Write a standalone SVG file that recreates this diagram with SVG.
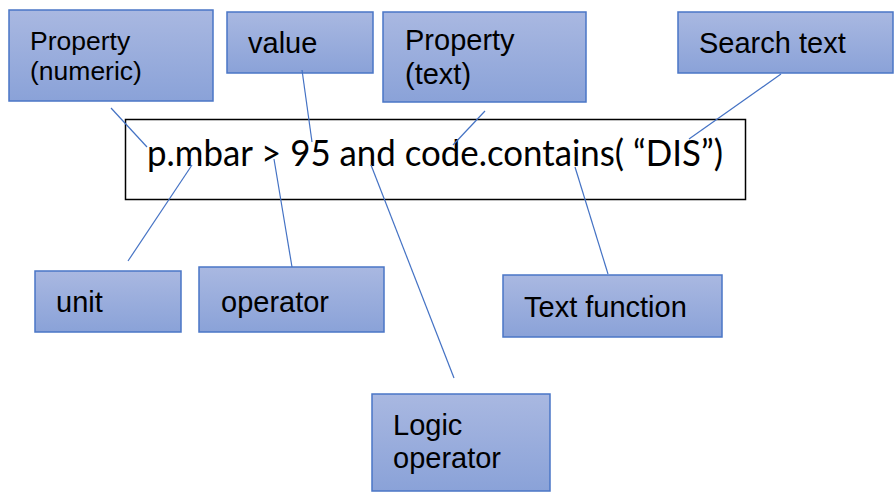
<svg xmlns="http://www.w3.org/2000/svg" width="894" height="493" viewBox="0 0 894 493">
  <style>
    .box { fill: url(#g); stroke: #4a76c6; stroke-width: 1.5; }
    .lbl { font-family: "Liberation Sans", Arial, sans-serif; font-size: 29px; fill: #000; }
    .sm { font-size: 26.5px; }
    .conn line { stroke: #4472c4; stroke-width: 1.2; }
    .main { font-family: Lato, "Open Sans", sans-serif; font-size: 36px; fill: #000; }
  </style>
  <defs>
    <linearGradient id="g" x1="0" y1="0" x2="0" y2="1">
      <stop offset="0" stop-color="#a9b8e1"/>
      <stop offset="1" stop-color="#8aa2d8"/>
    </linearGradient>
  </defs>
  <rect width="894" height="493" fill="#fff"/>

  <g id="expression">
    <rect x="125.5" y="119.5" width="620" height="80" fill="#fff" stroke="#000" stroke-width="1.5"/>
    <text class="main" x="147" y="166" textLength="576" lengthAdjust="spacingAndGlyphs">p.mbar &gt; 95 and code.contains( “DIS”)</text>
  </g>

  <g id="prop-numeric">
    <rect class="box" x="9" y="10" width="204" height="91"/>
    <text class="lbl sm" x="30" y="50">Property</text>
    <text class="lbl sm" x="30" y="80">(numeric)</text>
  </g>
  <g id="value">
    <rect class="box" x="227" y="12" width="146" height="61"/>
    <text class="lbl" x="248" y="53">value</text>
  </g>
  <g id="prop-text">
    <rect class="box" x="383" y="12" width="203" height="90"/>
    <text class="lbl" x="405" y="50">Property</text>
    <text class="lbl" x="405" y="84">(text)</text>
  </g>
  <g id="search-text">
    <rect class="box" x="678" y="12" width="215" height="61"/>
    <text class="lbl" x="699" y="53">Search text</text>
  </g>
  <g id="unit">
    <rect class="box" x="35" y="271" width="146" height="61"/>
    <text class="lbl" x="56" y="312">unit</text>
  </g>
  <g id="operator">
    <rect class="box" x="199" y="267" width="185" height="65"/>
    <text class="lbl" x="221" y="312">operator</text>
  </g>
  <g id="text-function">
    <rect class="box" x="503" y="275" width="219" height="62"/>
    <text class="lbl" x="524" y="317">Text function</text>
  </g>
  <g id="logic-operator">
    <rect class="box" x="372" y="394" width="178" height="97"/>
    <text class="lbl" x="393" y="435">Logic</text>
    <text class="lbl" x="393" y="468">operator</text>
  </g>

  <g id="connectors" class="conn">
    <line x1="111" y1="108" x2="147" y2="147"/>
    <line x1="302" y1="70" x2="312" y2="142"/>
    <line x1="485" y1="111" x2="453" y2="145"/>
    <line x1="781" y1="74" x2="689" y2="139"/>
    <line x1="192" y1="165" x2="128" y2="261"/>
    <line x1="274" y1="159" x2="292" y2="267"/>
    <line x1="371" y1="165" x2="454" y2="378"/>
    <line x1="575" y1="167" x2="608" y2="274"/>
  </g>
</svg>
